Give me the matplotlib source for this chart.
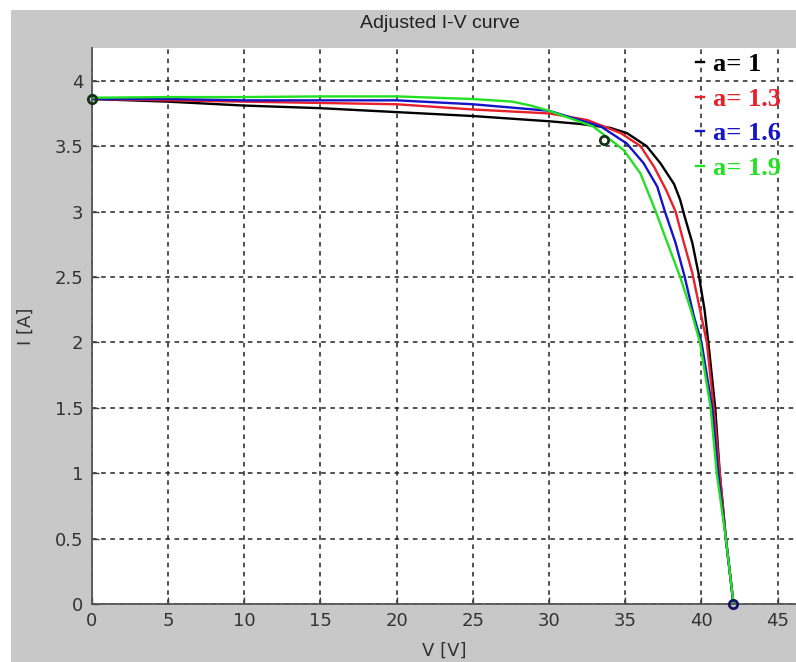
import matplotlib
matplotlib.use("Agg")
import matplotlib.pyplot as plt
from matplotlib.patches import Rectangle

# I-V curves, one pair of lists per ideality factor
v_a10 = [0, 5, 10, 15, 20, 25, 30, 32, 34.0, 35.1, 36.4, 37.3, 38.2, 38.6, 38.9, 39.4, 39.8, 40.2, 40.45, 40.9, 41.2, 41.6, 42.1]
i_a10 = [3.86, 3.84, 3.81, 3.79, 3.76, 3.73, 3.69, 3.67, 3.64, 3.60, 3.50, 3.37, 3.21, 3.09, 2.96, 2.76, 2.53, 2.25, 2.00, 1.50, 1.00, 0.50, 0.0]

v_a13 = [0, 5, 10, 15, 20, 25, 30, 32.5, 34.7, 36.0, 36.9, 37.7, 38.3, 38.8, 39.4, 39.9, 40.35, 40.8, 41.2, 41.6, 42.1]
i_a13 = [3.86, 3.85, 3.84, 3.83, 3.82, 3.78, 3.75, 3.70, 3.60, 3.50, 3.34, 3.16, 3.00, 2.78, 2.53, 2.25, 2.00, 1.50, 1.00, 0.50, 0.0]

v_a16 = [0, 5, 10, 15, 20, 25, 30, 33.4, 35.1, 36.2, 37.1, 37.6, 38.3, 38.9, 39.5, 40.0, 40.7, 41.1, 41.6, 42.1]
i_a16 = [3.86, 3.86, 3.85, 3.85, 3.85, 3.82, 3.77, 3.65, 3.52, 3.37, 3.19, 3.00, 2.76, 2.50, 2.20, 2.00, 1.50, 1.00, 0.50, 0.0]

v_a19 = [0, 5, 10, 15, 20, 25, 27.6, 28.8, 30, 32.9, 34.9, 36.0, 37.0, 37.7, 38.6, 39.3, 39.9, 40.6, 41.0, 41.6, 42.1]
i_a19 = [3.87, 3.875, 3.875, 3.88, 3.88, 3.86, 3.84, 3.81, 3.77, 3.65, 3.47, 3.29, 3.00, 2.78, 2.50, 2.25, 2.00, 1.50, 1.00, 0.50, 0.0]

labels = ["a= 1", "a= 1.3", "a= 1.6", "a= 1.9"]
colors = ["black", "#e8202a", "#1414c8", "#22e022"]

# remarkable points: short circuit, max power, open circuit
pt_v = [0, 33.6, 42.1]
pt_i = [3.86, 3.55, 0.0]
pt_col = ["#143214", "#143214", "#141464"]

x_ticks = [0, 5, 10, 15, 20, 25, 30, 35, 40, 45]
y_ticks = [0, 0.5, 1, 1.5, 2, 2.5, 3, 3.5, 4]


def main():
    fig = plt.figure(figsize=(7.96, 6.62), dpi=100, facecolor="white")
    # grey window background, with a thin white border top/left
    bg = Rectangle((11 / 796, 0), 1, 1 - 10 / 662, transform=fig.transFigure,
                   facecolor="#c8c8c8", edgecolor="none", zorder=-10)
    fig.patches.append(bg)

    ax = fig.add_axes([91.7 / 796, 58 / 662, (796 - 91.7) / 796, 556 / 662])
    ax.set_facecolor("white")

    curves = [(v_a10, i_a10), (v_a13, i_a13), (v_a16, i_a16), (v_a19, i_a19)]
    for (v, i), lab, c in zip(curves, labels, colors):
        ax.plot(v, i, color=c, lw=1.7, label=lab)

    for v, i, c in zip(pt_v, pt_i, pt_col):
        ax.plot(v, i, "o", mfc="none", mec=c, ms=6, mew=2, clip_on=False, zorder=5)

    ax.set_xlim(0, 46.2)
    ax.set_ylim(0, 4.25)
    ax.set_xticks(x_ticks)
    ax.set_yticks(y_ticks)
    ax.set_xticklabels([f"{t:g}" for t in x_ticks])
    ax.set_yticklabels([f"{t:g}" for t in y_ticks])
    ax.tick_params(direction="in", length=5, width=1, color="#444444",
                   labelsize=13, labelcolor="#333333", pad=6)
    ax.grid(True, color="#222222", lw=1.1, linestyle=(0, (3, 3)))

    for s in ["top", "right"]:
        ax.spines[s].set_visible(False)
    for s in ["left", "bottom"]:
        ax.spines[s].set_color("#555555")
        ax.spines[s].set_linewidth(1.3)

    ax.set_xlabel("V [V]", fontsize=13, color="#333333", labelpad=8)
    ax.set_ylabel("I [A]", fontsize=13, color="#333333", labelpad=14)

    fig.text(440 / 796, 1 - 23 / 662, "Adjusted I-V curve", ha="center", va="center",
             fontsize=14, color="#222222", family="Liberation Sans")

    ax.legend(loc="upper left", bbox_to_anchor=(0.854, 0.996), frameon=False,
              handlelength=0.3, handletextpad=0.35, labelspacing=0.42,
              borderaxespad=0, borderpad=0.1, labelcolor="linecolor",
              prop={"family": "Liberation Serif", "weight": "bold", "size": 19})

    plt.savefig("out.png", dpi=100, facecolor=fig.get_facecolor())
    plt.close()


if __name__ == "__main__":
    main()
